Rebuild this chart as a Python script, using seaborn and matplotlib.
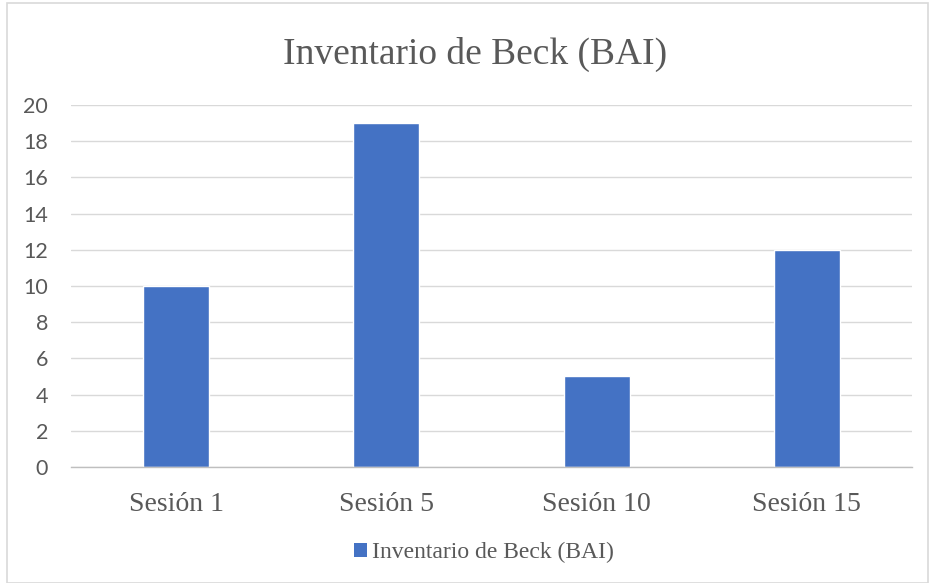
import pandas as pd
import seaborn as sns
import matplotlib.pyplot as plt
from matplotlib.patches import Rectangle, Patch

# Data
sessions = ['Sesión 1', 'Sesión 5', 'Sesión 10', 'Sesión 15']
bai_scores = [10, 19, 5, 12]
series_name = 'Inventario de Beck (BAI)'

df = pd.DataFrame({'session': sessions, 'score': bai_scores})

sns.set_theme(style='white')
plt.rcParams['font.family'] = ['Liberation Serif', 'DejaVu Serif']

fig = plt.figure(figsize=(9.3, 5.83), dpi=100)
ax = fig.add_axes([0.0763, 0.199, 0.9043, 0.621])

bar_color = '#4472C4'
sns.barplot(data=df, x='session', y='score', color=bar_color, width=0.314,
            saturation=1, ax=ax)

ax.set_ylim(0, 20)
ax.set_yticks(range(0, 21, 2))
ax.yaxis.grid(True, color='#D9D9D9', linewidth=1)
ax.set_axisbelow(True)
for side in ['top', 'right', 'left']:
    ax.spines[side].set_visible(False)
ax.spines['bottom'].set_color('#BFBFBF')
ax.spines['bottom'].set_linewidth(1)
ax.tick_params(axis='both', length=0)
ax.tick_params(axis='x', pad=18, labelsize=20, labelcolor='#595959')
for lbl in ax.get_yticklabels():
    lbl.set_family('Lato')
    lbl.set_fontsize(15.5)
    lbl.set_color('#595959')
ax.tick_params(axis='y', pad=16.5)
ax.set_xlabel('')
ax.set_ylabel('')

fig.text(0.511, 0.906, series_name, ha='center', va='center',
         fontsize=27, color='#595959')

handle = Patch(facecolor=bar_color, edgecolor='none')
fig.legend([handle], [series_name], loc='center', bbox_to_anchor=(0.52, 0.052),
           frameon=False, fontsize=17, labelcolor='#595959',
           handlelength=0.55, handleheight=0.55, handletextpad=0.2)

# light border around the chart area
fig.patches.append(Rectangle((0.008, 0.0), 0.99, 0.995, transform=fig.transFigure,
                             fill=False, edgecolor='#D9D9D9', linewidth=1.2))

plt.savefig('out.png', dpi=100)
